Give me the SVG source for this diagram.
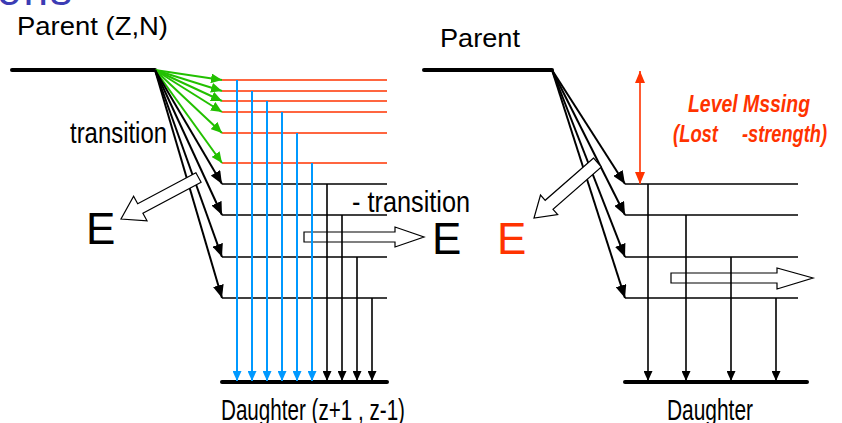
<svg xmlns="http://www.w3.org/2000/svg" width="842" height="423" viewBox="0 0 842 423">
<style>
  text { font-family: "Liberation Sans", Arial, sans-serif; }
  .lbl { font-size: 26px; fill: #000; }
  .cond { font-size: 30px; fill: #000; }
  .big { font-size: 44px; fill: #000; }
  .red-t { fill: #ff3300; font-style: italic; font-weight: bold; font-size: 23px; }
  .thick { stroke: #000; stroke-width: 4; stroke-linecap: round; fill: none; }
  .lvl-k { stroke: #000; stroke-width: 1.5; fill: none; }
  .lvl-r { stroke: #ff3300; stroke-width: 1.6; fill: none; }
  .g-arr { stroke: #22c000; stroke-width: 2; fill: none; marker-end: url(#ah-g); }
  .b-arr { stroke: #0099ff; stroke-width: 2; fill: none; marker-end: url(#ah-b); }
  .k-arr { stroke: #000; stroke-width: 1.6; fill: none; marker-end: url(#ah-kv); }
  .k-diag { stroke: #000; stroke-width: 2; fill: none; marker-end: url(#ah-k); }
  .hollow { fill: #fff; stroke: #000; stroke-width: 1.2; stroke-linejoin: miter; }
</style>
<defs>
  <marker id="ah-k" markerUnits="userSpaceOnUse" markerWidth="13" markerHeight="11" refX="13" refY="5.5" orient="auto">
    <path d="M0,0 L13,5.5 L0,11 z" fill="#000"/>
  </marker>
  <marker id="ah-kv" markerUnits="userSpaceOnUse" markerWidth="10" markerHeight="9" refX="10" refY="4.5" orient="auto">
    <path d="M0,0 L10,4.5 L0,9 z" fill="#000"/>
  </marker>
  <marker id="ah-b" markerUnits="userSpaceOnUse" markerWidth="10" markerHeight="9" refX="10" refY="4.5" orient="auto">
    <path d="M0,0 L10,4.5 L0,9 z" fill="#0099ff"/>
  </marker>
  <marker id="ah-g" markerUnits="userSpaceOnUse" markerWidth="11" markerHeight="10" refX="11" refY="5" orient="auto">
    <path d="M0,0 L11,5 L0,10 z" fill="#22c000"/>
  </marker>
  <marker id="ah-r" markerUnits="userSpaceOnUse" markerWidth="12" markerHeight="10" refX="12" refY="5" orient="auto-start-reverse">
    <path d="M0,0 L12,5 L0,10 z" fill="#ff3300"/>
  </marker>
</defs>

<rect x="0" y="0" width="842" height="423" fill="#fff"/>

<!-- clipped title fragment -->
<text x="-3" y="5" font-size="44" fill="#3c3cb4" letter-spacing="2">ons</text>

<!-- hollow horizontal emission arrows (under lines) -->
<g id="emission-arrows-h">
  <polygon class="hollow" points="304,232 395,232 395,227 424,237 395,247 395,242 304,242"/>
  <polygon class="hollow" points="671,273 777,273 777,268 813,278 777,289 777,283 671,283"/>
</g>

<!-- LEFT PANEL nodes -->
<g id="parent-left">
  <line class="thick" x1="12" y1="70" x2="155" y2="70"/>
  <text class="lbl" x="17" y="35" textLength="151" lengthAdjust="spacingAndGlyphs">Parent (Z,N)</text>
</g>
<g id="levels-left-red">
  <line class="lvl-r" x1="222" y1="80" x2="387" y2="80"/>
  <line class="lvl-r" x1="222" y1="91" x2="387" y2="91"/>
  <line class="lvl-r" x1="222" y1="101" x2="387" y2="101"/>
  <line class="lvl-r" x1="222" y1="112" x2="387" y2="112"/>
  <line class="lvl-r" x1="222" y1="133" x2="387" y2="133"/>
  <line class="lvl-r" x1="222" y1="163" x2="387" y2="163"/>
</g>
<g id="levels-left-black">
  <line class="lvl-k" x1="222" y1="184" x2="387" y2="184"/>
  <line class="lvl-k" x1="222" y1="215" x2="387" y2="215"/>
  <line class="lvl-k" x1="222" y1="257" x2="387" y2="257"/>
  <line class="lvl-k" x1="222" y1="298" x2="387" y2="298"/>
</g>
<g id="daughter-left">
  <line class="thick" x1="222" y1="382" x2="387" y2="382"/>
  <text class="cond" x="221" y="420" textLength="184" lengthAdjust="spacingAndGlyphs">Daughter (z+1 , z-1)</text>
</g>

<!-- RIGHT PANEL nodes -->
<g id="parent-right">
  <line class="thick" x1="424" y1="70" x2="552" y2="70"/>
  <text class="lbl" x="440" y="47" textLength="80" lengthAdjust="spacingAndGlyphs">Parent</text>
</g>
<g id="levels-right">
  <line class="lvl-k" x1="625" y1="184" x2="798" y2="184"/>
  <line class="lvl-k" x1="625" y1="215" x2="798" y2="215"/>
  <line class="lvl-k" x1="625" y1="257" x2="798" y2="257"/>
  <line class="lvl-k" x1="625" y1="298" x2="798" y2="298"/>
</g>
<g id="daughter-right">
  <line class="thick" x1="625" y1="382" x2="807" y2="382"/>
  <text class="cond" x="667" y="420" textLength="86" lengthAdjust="spacingAndGlyphs">Daughter</text>
</g>

<!-- CONNECTORS -->
<g id="connectors">
  <line class="g-arr" x1="155" y1="70" x2="222" y2="80"/>
  <line class="g-arr" x1="155" y1="70" x2="222" y2="91"/>
  <line class="g-arr" x1="155" y1="70" x2="222" y2="101"/>
  <line class="g-arr" x1="155" y1="70" x2="222" y2="112"/>
  <line class="g-arr" x1="155" y1="70" x2="222" y2="133"/>
  <line class="g-arr" x1="155" y1="70" x2="222" y2="163"/>
  <line class="k-diag" x1="155" y1="70" x2="222" y2="184"/>
  <line class="k-diag" x1="155" y1="70" x2="222" y2="215"/>
  <line class="k-diag" x1="155" y1="70" x2="222" y2="257"/>
  <line class="k-diag" x1="155" y1="70" x2="222" y2="298"/>
  <line class="b-arr" x1="237" y1="80" x2="237" y2="381"/>
  <line class="b-arr" x1="252" y1="91" x2="252" y2="381"/>
  <line class="b-arr" x1="267" y1="101" x2="267" y2="381"/>
  <line class="b-arr" x1="282" y1="112" x2="282" y2="381"/>
  <line class="b-arr" x1="297" y1="133" x2="297" y2="381"/>
  <line class="b-arr" x1="312" y1="163" x2="312" y2="381"/>
  <line class="k-arr" x1="327" y1="184" x2="327" y2="381"/>
  <line class="k-arr" x1="342" y1="215" x2="342" y2="381"/>
  <line class="k-arr" x1="357" y1="257" x2="357" y2="381"/>
  <line class="k-arr" x1="372" y1="298" x2="372" y2="381"/>
  <line class="k-diag" x1="552" y1="70" x2="625" y2="184"/>
  <line class="k-diag" x1="552" y1="70" x2="625" y2="215"/>
  <line class="k-diag" x1="552" y1="70" x2="625" y2="257"/>
  <line class="k-diag" x1="552" y1="70" x2="625" y2="298"/>
  <line class="k-arr" x1="648" y1="184" x2="648" y2="381"/>
  <line class="k-arr" x1="686" y1="215" x2="686" y2="381"/>
  <line class="k-arr" x1="731" y1="257" x2="731" y2="381"/>
  <line class="k-arr" x1="776" y1="298" x2="776" y2="381"/>
  <line x1="640" y1="71" x2="640" y2="184" stroke="#ff3300" stroke-width="1.6" marker-start="url(#ah-r)" marker-end="url(#ah-r)"/>
</g>

<!-- hollow diagonal emission arrows (over lines) -->
<g id="emission-arrows-d">
  <polygon class="hollow" points="195.9,172.7 137.7,203.7 133.6,196.2 121,219 147,220.8 142.9,213.3 201.1,182.3"/>
  <polygon class="hollow" points="593.6,158 545.2,200.3 540.5,195 534,218 557.7,214.6 553,209.3 601.4,167"/>
</g>

<!-- labels -->
<g id="labels">
  <text class="cond" x="70" y="143" textLength="97" lengthAdjust="spacingAndGlyphs">transition</text>
  <text class="cond" x="352" y="212" textLength="118" lengthAdjust="spacingAndGlyphs">-  transition</text>
  <text class="big" x="86" y="244">E</text>
  <text class="big" x="432" y="254">E</text>
  <text class="big" x="497" y="254" style="fill:#ff3300">E</text>
  <text class="red-t" x="688" y="112" textLength="122" lengthAdjust="spacingAndGlyphs">Level Mssing</text>
  <text class="red-t" x="673" y="142" textLength="45" lengthAdjust="spacingAndGlyphs">(Lost</text>
  <text class="red-t" x="742" y="142" textLength="85" lengthAdjust="spacingAndGlyphs">-strength)</text>
</g>
</svg>
